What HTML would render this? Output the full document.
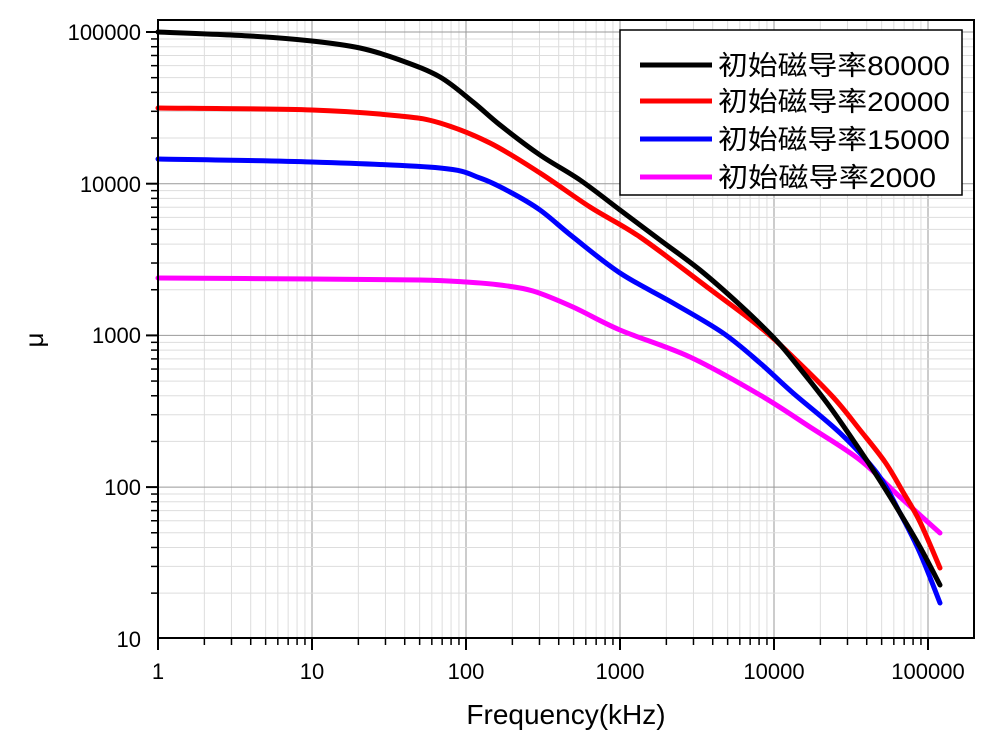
<!DOCTYPE html>
<html><head><meta charset="utf-8"><style>
body{margin:0;background:#fff;width:997px;height:744px;overflow:hidden}
svg{display:block}
text{font-family:"Liberation Sans","Noto Sans CJK SC",sans-serif;fill:#000}
</style></head><body>
<svg id="s" width="997" height="744" viewBox="0 0 997 744">
<g id="grid"></g>
<g id="curves" fill="none" stroke-width="5" stroke-linejoin="round" stroke-linecap="round"></g>
<rect x="158" y="20" width="816" height="618" fill="none" stroke="#000" stroke-width="2"/>
<g id="ticks" stroke="#000" stroke-width="2"></g>
<g font-size="22" text-anchor="end">
<text x="141" y="40">100000</text><text x="141" y="192">10000</text><text x="141" y="343">1000</text><text x="141" y="495">100</text><text x="141" y="647">10</text>
</g>
<g font-size="22" text-anchor="middle">
<text x="158" y="679">1</text><text x="312" y="679">10</text><text x="466" y="679">100</text><text x="620" y="679">1000</text><text x="774" y="679">10000</text><text x="928" y="679">100000</text>
</g>
<text x="566" y="724" font-size="28" text-anchor="middle">Frequency(kHz)</text>
<text transform="translate(43,340) rotate(-90)" font-size="26" text-anchor="middle">μ</text>
<rect x="620" y="30" width="342" height="165" fill="#fff" stroke="#000" stroke-width="1.5"/>
<g stroke-width="5">
<line x1="640" y1="65" x2="712" y2="65" stroke="#000"/>
<line x1="640" y1="101" x2="712" y2="101" stroke="#f00"/>
<line x1="640" y1="139" x2="712" y2="139" stroke="#00f"/>
<line x1="640" y1="177" x2="712" y2="177" stroke="#f0f"/>
</g>
<g font-size="27">
<text x="718" y="75" textLength="232" lengthAdjust="spacingAndGlyphs">初始磁导率80000</text>
<text x="718" y="111" textLength="232" lengthAdjust="spacingAndGlyphs">初始磁导率20000</text>
<text x="718" y="149" textLength="232" lengthAdjust="spacingAndGlyphs">初始磁导率15000</text>
<text x="718" y="187" textLength="218" lengthAdjust="spacingAndGlyphs">初始磁导率2000</text>
</g>
</svg>
<script>
var ns="http://www.w3.org/2000/svg",g=document.getElementById("grid"),t=document.getElementById("ticks");
function L(p,x1,y1,x2,y2,c,w){var l=document.createElementNS(ns,"line");l.setAttribute("x1",x1);l.setAttribute("y1",y1);l.setAttribute("x2",x2);l.setAttribute("y2",y2);if(c)l.setAttribute("stroke",c);l.setAttribute("stroke-width",w);p.appendChild(l);}
for(var d=0;d<6;d++)for(var k=1;k<10;k++){var x=158+154*(d+Math.log10(k));if(x>974)continue;var maj=k==1;
 if(x>159)L(g,x,20,x,638,maj?"#999":"#ddd",1);L(t,x,638,x,maj?650:645,null,maj?2:1.5);}
for(var d=1;d<6;d++)for(var k=1;k<10;k++){var y=32+151.7*(5-(d+Math.log10(k)));if(y<20||y>638)continue;var maj=k==1;
 if(y<637)L(g,158,y,974,y,maj?"#999":"#ddd",1);L(t,158,y,maj?146:151,y,null,maj?2:1.5);}
function cr(p){var d="M"+p[0][0]+","+p[0][1];for(var i=0;i<p.length-1;i++){var p0=p[i-1]||p[i],p1=p[i],p2=p[i+1],p3=p[i+2]||p2;
 d+=" C"+(p1[0]+(p2[0]-p0[0])/6)+","+(p1[1]+(p2[1]-p0[1])/6)+" "+(p2[0]-(p3[0]-p1[0])/6)+","+(p2[1]-(p3[1]-p1[1])/6)+" "+p2[0]+","+p2[1];}return d;}
var C={
"#ff00ff":[[158,278],[312,279],[420,280],[466,282],[500,285],[533,291],[573,307],[620,330],[690,357],[760,395],[810,427],[860,460],[900,497],[940,533]],
"#0000ff":[[158,159],[312,162],[440,168],[480,178],[510,192],[540,210],[573,237],[620,273],[673,303],[723,333],[760,363],[793,393],[840,433],[877,473],[900,513],[920,553],[940,603]],
"#ff0000":[[158,108],[312,110],[400,116],[440,123],[490,143],[540,173],[590,207],[640,237],[707,287],[760,327],[793,357],[833,397],[860,430],[885,462],[903,492],[920,522],[940,568]],
"#000000":[[158,32],[250,36],[312,41],[360,48],[400,60],[440,77],[473,102],[500,125],[540,155],[580,180],[620,210],[660,240],[700,270],[740,305],[774,338],[793,360],[827,403],[853,440],[877,476],[900,513],[920,547],[940,585]]};
var cg=document.getElementById("curves");
for(var c in C){var p=document.createElementNS(ns,"path");p.setAttribute("d",cr(C[c]));p.setAttribute("stroke",c);cg.appendChild(p);}
</script>
</body></html>
